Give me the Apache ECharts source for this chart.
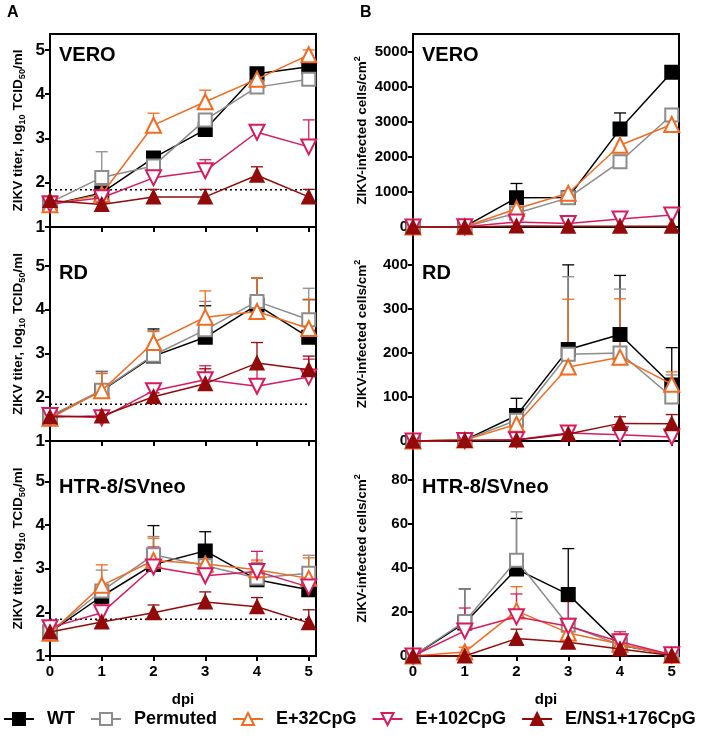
<!DOCTYPE html>
<html><head><meta charset="utf-8">
<script src="https://cdn.jsdelivr.net/npm/echarts@6/dist/echarts.min.js"></script>
<style>html,body{margin:0;padding:0;background:#fff}#c{width:709px;height:739px}</style>
</head><body><div id="c"></div>
<script>
// ---------- data ----------
const dpi = [0, 1, 2, 3, 4, 5];
const seriesNames = ['WT', 'Permuted', 'E+32CpG', 'E+102CpG', 'E/NS1+176CpG'];
const detectionLimit = 1.84;
const titerTicks = [1, 2, 3, 4, 5];
const veroCellTicks = [0, 1000, 2000, 3000, 4000, 5000];
const rdCellTicks = [0, 100, 200, 300, 400];
const htrCellTicks = [0, 20, 40, 60, 80];

// rows in seriesNames order; values = means, Err = top of upper error bar (null = none visible)
const titerVERO = [
  [1.50, 1.77, 2.56, 3.20, 4.46, 4.62],
  [1.55, 2.12, 2.38, 3.42, 4.16, 4.34],
  [1.50, 1.74, 3.30, 3.83, 4.34, 4.89],
  [1.52, 1.66, 2.11, 2.27, 3.14, 2.81],
  [1.60, 1.51, 1.68, 1.68, 2.17, 1.68]
];
const titerVEROErr = [
  [null, null, 2.62, 3.30, 4.50, 4.70],
  [null, 2.70, 2.45, 3.55, 4.22, 4.38],
  [null, 1.90, 3.57, 4.09, 4.40, 5.00],
  [null, 1.72, 2.32, 2.52, 3.20, 3.42],
  [null, 1.55, 1.85, 1.85, 2.36, 1.85]
];
const titerRD = [
  [1.55, 2.15, 2.94, 3.37, 4.11, 3.37],
  [1.57, 2.16, 2.96, 3.54, 4.19, 3.77],
  [1.52, 2.15, 3.25, 3.83, 3.96, 3.57],
  [1.58, 1.53, 2.15, 2.40, 2.25, 2.46],
  [1.55, 1.57, 2.01, 2.31, 2.78, 2.63]
];
const titerRDErr = [
  [null, 2.59, 3.56, 4.09, 4.72, 4.23],
  [null, 2.58, 3.52, 4.19, 4.72, 4.49],
  [null, 2.54, 3.50, 4.43, 4.73, 4.24],
  [null, 1.60, 2.28, 2.72, 2.70, 2.87],
  [null, null, 2.10, 2.65, 3.25, 2.94]
];
const titerHTR = [
  [1.55, 2.37, 3.10, 3.41, 2.75, 2.52],
  [1.55, 2.49, 3.32, 3.07, 2.79, 2.90],
  [1.52, 2.62, 3.19, 3.11, 2.98, 2.78],
  [1.65, 1.99, 3.04, 2.84, 2.94, 2.58],
  [1.55, 1.78, 1.99, 2.24, 2.13, 1.76]
];
const titerHTRErr = [
  [null, 2.60, 3.99, 3.85, 3.10, 3.00],
  [null, 2.97, 3.74, 3.40, 3.15, 3.31],
  [null, 3.09, 3.70, 3.35, 3.20, 3.25],
  [null, 2.20, 3.50, 3.15, 3.40, 2.90],
  [null, 1.82, 2.17, 2.47, 2.34, 2.06]
];
const cellsVERO = [
  [0, 10, 830, 840, 2790, 4410],
  [0, 5, 390, 830, 1860, 3190],
  [0, 5, 520, 960, 2330, 2920],
  [0, 5, 140, 100, 230, 340],
  [0, 0, 30, 20, 20, 20]
];
const cellsVEROErr = [
  [null, null, 1240, null, 3250, 4560],
  [null, null, null, null, 2050, 3300],
  [null, null, null, null, null, null],
  [null, null, null, null, null, null],
  [null, null, null, null, null, null]
];
const cellsRD = [
  [0, 2, 58, 208, 242, 127],
  [0, 2, 47, 197, 200, 100],
  [0, 2, 38, 168, 190, 129],
  [0, 1, 3, 18, 14, 9],
  [0, 1, 2, 16, 40, 39]
];
const cellsRDErr = [
  [null, null, 97, 400, 376, 212],
  [null, null, null, 373, 345, 150],
  [null, null, null, 322, 323, 157],
  [null, null, null, 25, null, null],
  [null, null, null, null, 55, 60]
];
const cellsHTR = [
  [0, 15.0, 39.5, 28.0, 5.0, 0.5],
  [0, 15.7, 43.5, 14.0, 5.0, 0.5],
  [0, 1.8, 20.5, 10.5, 5.5, 0.3],
  [0, 11.4, 17.8, 13.5, 6.5, 0.6],
  [0, 0, 7.9, 6.2, 3.2, 0.2]
];
const cellsHTRErr = [
  [null, 30.5, 62.5, 48.8, 8.0, null],
  [null, 30.5, 65.5, 25.0, 9.0, null],
  [null, 4.0, 31.5, 12.0, 10.0, null],
  [null, 21.8, 28.2, 24.7, 11.0, null],
  [null, null, 12.2, null, 4.5, null]
];

// ---------- styles ----------
const colors = ['#000000', '#8c8c8c', '#f26b21', '#d81b60', '#930a0a'];
const symbols = ['rect', 'rect', 'triangle', 'triangle', 'triangle'];
const rotates = [0, 0, 0, 180, 0];
const filled = [true, false, false, false, true];
const sizes = [13, 13, 15, 15, 13];
const FONT = 'Liberation Sans, Arial, sans-serif';

const panels = [
  { vals: titerVERO, errs: titerVEROErr, col: 0, top: 34, h: 193, min: 1, max: 5.36, ticks: titerTicks, label: 'VERO', bottom: false },
  { vals: titerRD,   errs: titerRDErr,   col: 0, top: 227, h: 214, min: 1, max: 5.89, ticks: titerTicks, label: 'RD', bottom: false },
  { vals: titerHTR,  errs: titerHTRErr,  col: 0, top: 441, h: 215, min: 1, max: 5.93, ticks: titerTicks, label: 'HTR-8/SVneo', bottom: true },
  { vals: cellsVERO, errs: cellsVEROErr, col: 1, top: 34, h: 193, min: 0, max: 5500, ticks: veroCellTicks, label: 'VERO', bottom: false },
  { vals: cellsRD,   errs: cellsRDErr,   col: 1, top: 227, h: 214, min: 0, max: 486, ticks: rdCellTicks, label: 'RD', bottom: false },
  { vals: cellsHTR,  errs: cellsHTRErr,  col: 1, top: 441, h: 215, min: 0, max: 97.7, ticks: htrCellTicks, label: 'HTR-8/SVneo', bottom: true }
];
const colLeft = [50, 413];
const colWidth = 266;

const grid = [], xAxis = [], yAxis = [], series = [], graphic = [];

const leftName = '{n|ZIKV titer, log}{s|10}{n| TCID}{s|50}{n|/ml}';
const rightName = '{n|ZIKV-infected cells/cm}{p|2}';
const nameRich = {
  n: { fontFamily: FONT, fontWeight: 'bold', fontSize: 13.5, color: '#000', lineHeight: 18, verticalAlign: 'middle' },
  s: { fontFamily: FONT, fontWeight: 'bold', fontSize: 9, color: '#000', lineHeight: 18, verticalAlign: 'bottom' },
  p: { fontFamily: FONT, fontWeight: 'bold', fontSize: 9, color: '#000', lineHeight: 18, verticalAlign: 'top' }
};

panels.forEach((p, i) => {
  grid.push({ left: colLeft[p.col], top: p.top, width: colWidth, height: p.h, show: true, borderColor: '#000', borderWidth: 2, backgroundColor: 'transparent' });
  xAxis.push({
    type: 'value', gridIndex: i, min: 0, max: 5.14,
    axisLine: { show: true, onZero: false, lineStyle: { color: '#000', width: 2 } },
    axisTick: { show: true, length: 5, lineStyle: { color: '#000', width: 2 }, customValues: dpi },
    axisLabel: { show: p.bottom, customValues: dpi, margin: 8, color: '#000', fontFamily: FONT, fontWeight: 'bold', fontSize: 15, formatter: v => String(v) },
    splitLine: { show: false },
    name: p.bottom ? 'dpi' : '', nameLocation: 'middle', nameGap: 36,
    nameTextStyle: { fontFamily: FONT, fontWeight: 'bold', fontSize: 15, color: '#000' }
  });
  yAxis.push({
    type: 'value', gridIndex: i, min: p.min, max: p.max,
    axisLine: { show: true, onZero: false, lineStyle: { color: '#000', width: 2 } },
    axisTick: { show: true, length: 5, lineStyle: { color: '#000', width: 2 }, customValues: p.ticks },
    axisLabel: { customValues: p.ticks, margin: 5, color: '#000', fontFamily: FONT, fontWeight: 'bold', fontSize: p.col === 0 ? 17 : 15, formatter: v => String(v) },
    splitLine: { show: false },
    name: p.col === 0 ? leftName : rightName,
    nameLocation: 'middle', nameGap: p.col === 0 ? 23 : 42,
    nameTextStyle: { rich: nameRich }
  });
  if (p.col === 0) {
    series.push({
      name: 'LOD', type: 'line', xAxisIndex: i, yAxisIndex: i, silent: true, symbol: 'none', z: 1,
      data: [[dpi[0], detectionLimit], [dpi[dpi.length - 1], detectionLimit]],
      lineStyle: { color: '#000', width: 1.5, type: [2, 3] }
    });
  }
  seriesNames.forEach((nm, k) => {
    const col = colors[k];
    const errData = [];
    dpi.forEach((d, j) => { if (p.errs[k][j] != null) errData.push([d, p.vals[k][j], p.errs[k][j]]); });
    series.push({
      name: nm + ' err', type: 'custom', xAxisIndex: i, yAxisIndex: i, silent: true, z: 2,
      data: errData,
      renderItem: (params, api) => {
        const a = api.coord([api.value(0), api.value(1)]);
        const b = api.coord([api.value(0), api.value(2)]);
        return { type: 'group', children: [
          { type: 'line', shape: { x1: a[0], y1: a[1], x2: b[0], y2: b[1] }, style: { stroke: col, lineWidth: 1.3 } },
          { type: 'line', shape: { x1: b[0] - 6, y1: b[1], x2: b[0] + 6, y2: b[1] }, style: { stroke: col, lineWidth: 1.3 } }
        ] };
      }
    });
  });
  seriesNames.forEach((nm, k) => {
    series.push({
      name: nm, type: 'line', xAxisIndex: i, yAxisIndex: i, z: 3 + k,
      data: dpi.map((d, j) => [d, p.vals[k][j]]),
      symbol: symbols[k], symbolRotate: rotates[k], symbolSize: sizes[k],
      showAllSymbol: true, clip: false,
      lineStyle: { color: colors[k], width: 1.5 },
      itemStyle: { color: filled[k] ? colors[k] : '#ffffff', borderColor: colors[k], borderWidth: 2 },
      emphasis: { disabled: true }
    });
  });
  graphic.push({
    type: 'text', x: colLeft[p.col] + 9, y: p.top + (i % 3 === 0 ? 21 : 46), silent: true,
    style: { text: p.label, fontFamily: FONT, fontWeight: 'bold', fontSize: 20, fill: '#000', verticalAlign: 'middle' }
  });
});

graphic.push({ type: 'text', x: 7, y: 13, style: { text: 'A', fontFamily: FONT, fontWeight: 'bold', fontSize: 16, fill: '#000', verticalAlign: 'middle' } });
graphic.push({ type: 'text', x: 360, y: 13, style: { text: 'B', fontFamily: FONT, fontWeight: 'bold', fontSize: 16, fill: '#000', verticalAlign: 'middle' } });

const chart = echarts.init(document.getElementById('c'), null, { renderer: 'canvas' });
chart.setOption({
  animation: false,
  backgroundColor: '#fff',
  grid, xAxis, yAxis, series, graphic,
  legend: {
    data: seriesNames, left: 3, top: 710, width: 706, padding: 0, itemWidth: 30, itemHeight: 15, itemGap: 15,
    selectedMode: false,
    textStyle: { fontFamily: FONT, fontWeight: 'bold', fontSize: 18, color: '#000', padding: [0, 0, 0, 8] }
  }
});
</script></body></html>
